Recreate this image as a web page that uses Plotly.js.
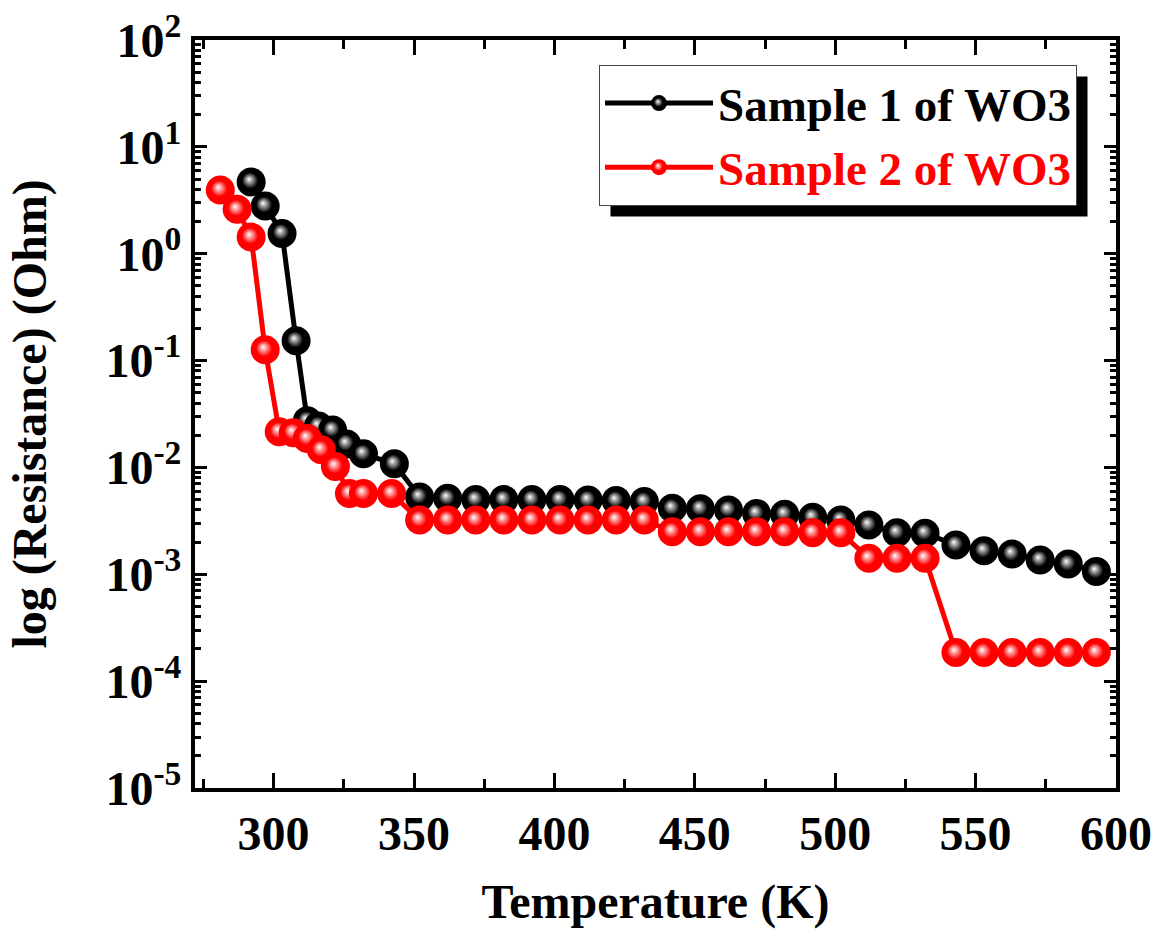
<!DOCTYPE html>
<html>
<head>
<meta charset="utf-8">
<script src="https://cdn.plot.ly/plotly-3.0.1.min.js"></script>
<style>html,body{margin:0;padding:0;background:#fff;}</style>
</head>
<body>
<div id="chart" style="width:1153px;height:929px;"></div>
<script>
// Sample 1 of WO3
const tempS1 = [292, 297, 303, 308, 312, 316, 321, 326, 332, 343, 352, 362, 372, 382, 392, 402, 412, 422, 432, 442, 452, 462, 472, 482, 492, 502, 512, 522, 532, 543, 553, 563, 573, 583, 593];
const resS1 = [4.7, 2.8, 1.55, 0.153, 0.0274, 0.0244, 0.0224, 0.0166, 0.0134, 0.0108, 0.0053, 0.00514, 0.0050, 0.0050, 0.0050, 0.0050, 0.00495, 0.0049, 0.0048, 0.00414, 0.0041, 0.0040, 0.0037, 0.00365, 0.00341, 0.00322, 0.00289, 0.00245, 0.00242, 0.00188, 0.00166, 0.00155, 0.00136, 0.00125, 0.00106];
// Sample 2 of WO3
const tempS2 = [281, 287, 292, 297, 302, 307, 312, 317, 322, 327, 332, 342, 352, 362, 372, 382, 392, 402, 412, 422, 432, 442, 452, 462, 472, 482, 492, 502, 512, 522, 532, 543, 553, 563, 573, 583, 593];
const resS2 = [3.95, 2.6, 1.43, 0.126, 0.0216, 0.0211, 0.0187, 0.0146, 0.0102, 0.0057, 0.0057, 0.0057, 0.00322, 0.00322, 0.00322, 0.00322, 0.00322, 0.00322, 0.00322, 0.00322, 0.00322, 0.0025, 0.0025, 0.0025, 0.0025, 0.0025, 0.00245, 0.00245, 0.00141, 0.00141, 0.00141, 0.000185, 0.000185, 0.000185, 0.000185, 0.000185, 0.000185];

const seriesNames = ['Sample 1 of WO3', 'Sample 2 of WO3'];
const yTickVals = [1e-5, 1e-4, 1e-3, 1e-2, 1e-1, 1e0, 1e1, 1e2];
const yTickText = ['10<sup>-5</sup>', '10<sup>-4</sup>', '10<sup>-3</sup>', '10<sup>-2</sup>', '10<sup>-1</sup>', '10<sup>0</sup>', '10<sup>1</sup>', '10<sup>2</sup>'];

const yMinorVals = [];
for (let e = -5; e < 2; e++) for (let m = 2; m <= 9; m++) yMinorVals.push(m * Math.pow(10, e));

const font = {family: 'Liberation Serif, Times New Roman, serif', size: 48, color: '#000', weight: 'bold'};
const legendFont = {family: 'Liberation Serif, Times New Roman, serif', size: 47, color: '#000', weight: 'bold'};

const traces = [
  {
    x: tempS1, y: resS1, name: seriesNames[0], type: 'scatter', mode: 'lines+markers',
    line: {color: '#000', width: 5},
    marker: {color: '#000', size: 29, line: {width: 0}, gradient: {type: 'radial', color: '#ffffff'}}
  },
  {
    x: tempS2, y: resS2, name: '<span style="color:#ff0000">' + seriesNames[1] + '</span>', type: 'scatter', mode: 'lines+markers',
    line: {color: '#ff0000', width: 5},
    marker: {color: '#ff0000', size: 29, line: {width: 0}, gradient: {type: 'radial', color: '#ffffff'}}
  }
];

const L = 195, R = 37, T = 40, B = 141;
const layout = {
  width: 1153, height: 929,
  margin: {l: L, r: R, t: T, b: B, pad: 0},
  paper_bgcolor: '#fff', plot_bgcolor: '#fff',
  font: font,
  showlegend: true,
  legend: {
    x: (599 - L) / (1153 - L - R), y: 1 - (65 - T) / (929 - T - B),
    xanchor: 'left', yanchor: 'top',
    bgcolor: '#fff', bordercolor: '#444', borderwidth: 1,
    font: legendFont, itemwidth: 108, tracegroupgap: 0
  },
  xaxis: {
    range: [272, 600], dtick: 50, tick0: 300,
    ticks: 'inside', ticklen: 15, tickwidth: 3, tickcolor: '#000',
    showline: true, linewidth: 4, linecolor: '#000', mirror: 'ticks',
    showgrid: false, zeroline: false,
    tickfont: font,
    minor: {dtick: 25, tick0: 300, ticks: 'inside', ticklen: 9, tickwidth: 3, tickcolor: '#000', showgrid: false},
    title: {text: 'Temperature (K)', font: font, standoff: 40}
  },
  yaxis: {
    type: 'log', range: [-5, 2],
    tickmode: 'array', tickvals: yTickVals, ticktext: yTickText,
    ticks: 'inside', ticklen: 12, tickwidth: 3, tickcolor: '#000',
    showline: true, linewidth: 4, linecolor: '#000', mirror: 'ticks',
    showgrid: false, zeroline: false,
    tickfont: font,
    minor: {tickmode: 'array', tickvals: yMinorVals, ticks: 'inside', ticklen: 6, tickwidth: 3, tickcolor: '#000', showgrid: false},
    title: {text: 'log (Resistance) (Ohm)', font: font, standoff: 45}
  }
};

function tuneGradients(gd) {
  gd.querySelectorAll('radialGradient').forEach(function (g) {
    g.setAttribute('fx', '0.42');
    g.setAttribute('fy', '0.4');
    g.querySelectorAll('stop').forEach(function (s) {
      const c = (s.getAttribute('stop-color') || s.style.stopColor || '').toLowerCase().replace(/\s/g, '');
      const isWhite = c === '#ffffff' || c === '#fff' || c === 'rgb(255,255,255)' || c === 'white';
      s.setAttribute('offset', isWhite ? '0%' : '55%');
    });
  });
}

Plotly.newPlot('chart', traces, layout, {displayModeBar: false, staticPlot: true}).then(function (gd) {
  const bg = gd.querySelector('.legend .bg');
  if (!bg) { tuneGradients(gd); return; }
  const rb = bg.getBoundingClientRect();
  const cb = gd.getBoundingClientRect();
  const pw = 1153 - L - R, ph = 929 - T - B;
  const x0 = rb.left - cb.left + 11, x1 = rb.right - cb.left + 11;
  const y0 = rb.top - cb.top + 11, y1 = rb.bottom - cb.top + 11;
  return Plotly.relayout(gd, {shapes: [{
    type: 'rect', xref: 'paper', yref: 'paper', layer: 'above',
    x0: (x0 - L) / pw, x1: (x1 - L) / pw,
    y0: 1 - (y0 - T) / ph, y1: 1 - (y1 - T) / ph,
    fillcolor: '#000', line: {width: 0}
  }]}).then(function () { tuneGradients(gd); });
});
</script>
</body>
</html>
